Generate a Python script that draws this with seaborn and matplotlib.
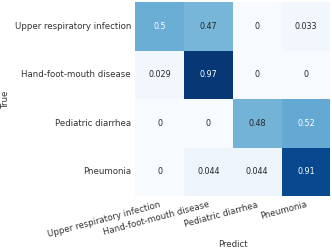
import numpy as np
import pandas as pd
import matplotlib
matplotlib.use('Agg')
import matplotlib.pyplot as plt
import seaborn as sns

classes = ['Upper respiratory infection', 'Hand-foot-mouth disease',
           'Pediatric diarrhea', 'Pneumonia']
row_upper = [0.5, 0.47, 0, 0.033]
row_hfm = [0.029, 0.97, 0, 0]
row_diarrhea = [0, 0, 0.48, 0.52]
row_pneumonia = [0, 0.044, 0.044, 0.91]

cm = pd.DataFrame([row_upper, row_hfm, row_diarrhea, row_pneumonia],
                  index=classes, columns=classes)

fig = plt.figure(figsize=(3.32, 2.52), dpi=100)
ax = fig.add_axes([0.407, 0.222, 0.588, 0.77])
sns.heatmap(cm, annot=True, cmap='Blues', cbar=False, ax=ax,
            vmin=0, vmax=1, annot_kws={'fontsize': 5.8},
            antialiased=True)
ax.tick_params(length=0, labelsize=6.2, colors='#333333', pad=3)
ax.set_xticklabels(classes, rotation=15, ha='right', rotation_mode='anchor')
ax.set_yticklabels(classes, rotation=0)
ax.set_xlabel('Predict', fontsize=6.2, color='#333333', labelpad=0.5)
ax.set_ylabel('True', fontsize=6.2, color='#333333', labelpad=3)
fig.savefig('out.png', dpi=100)
